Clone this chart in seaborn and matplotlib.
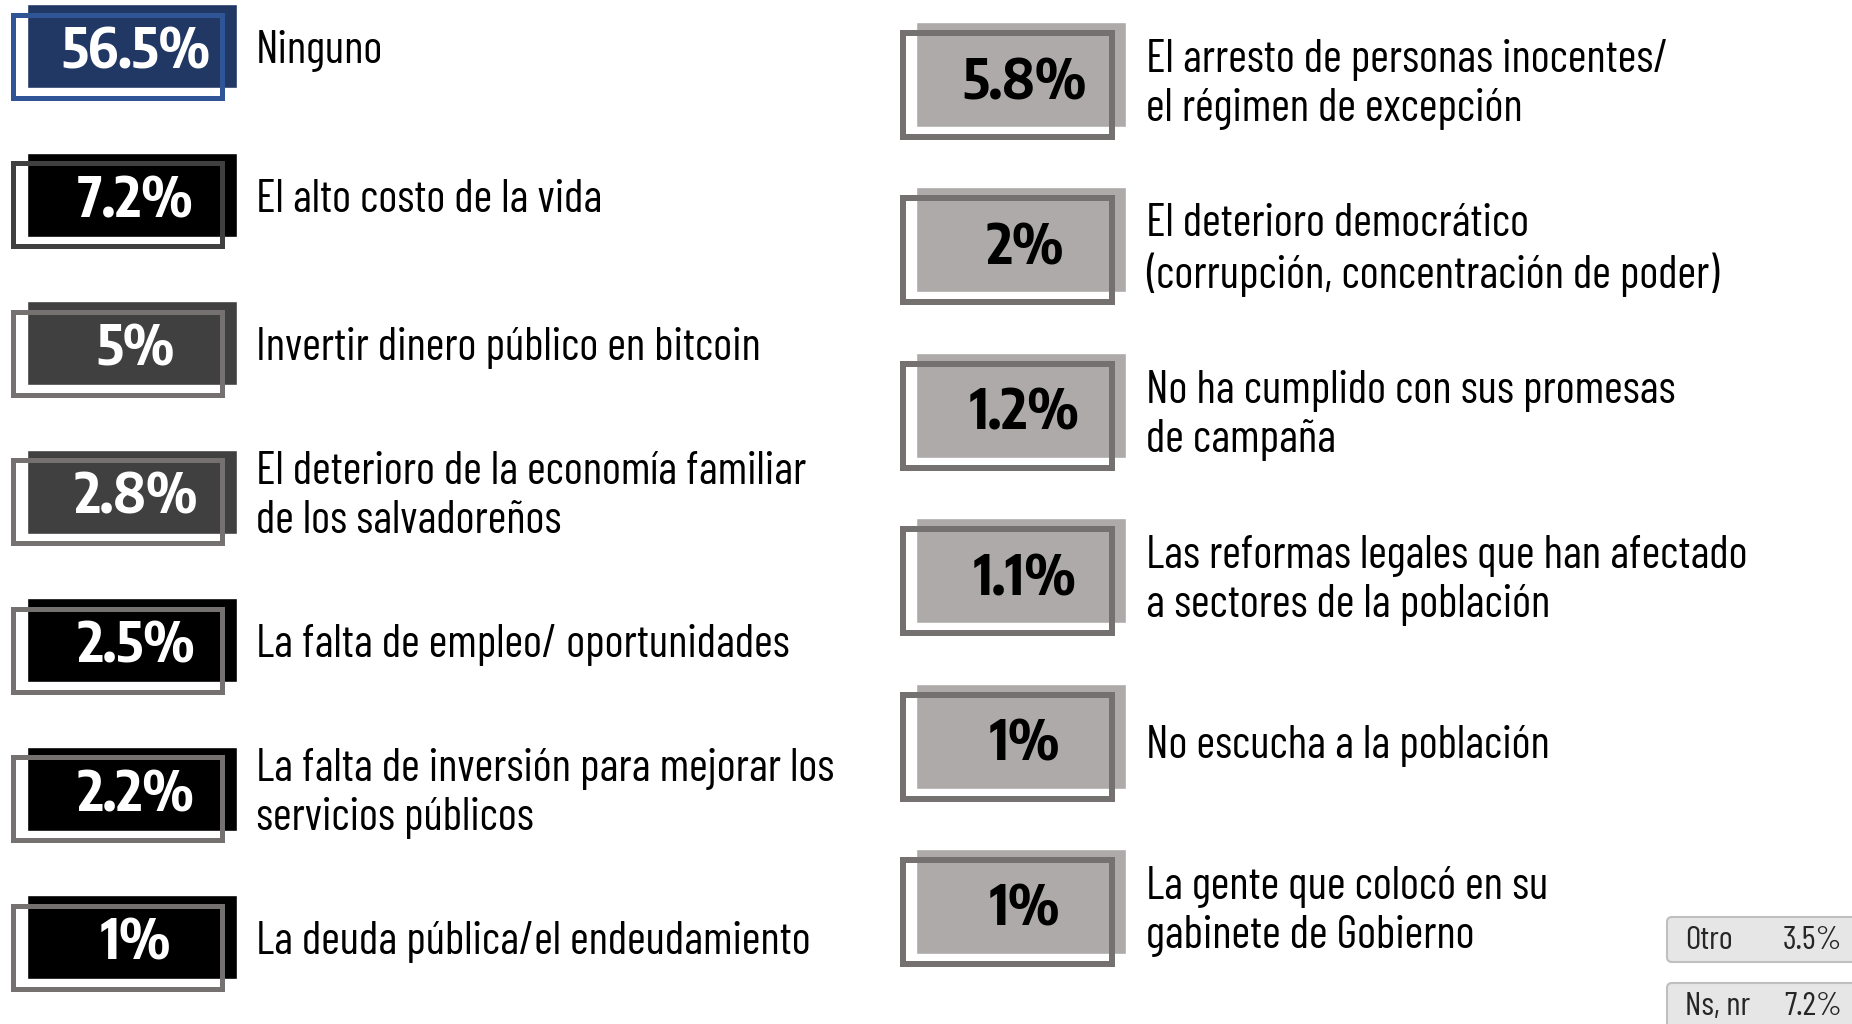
import matplotlib
matplotlib.use("Agg")

import matplotlib.pyplot as plt
import numpy as np
import pandas as pd
import seaborn as sns
from matplotlib.patches import FancyBboxPatch


# =========================
# 1. DADOS
# =========================

etiquetas_izq = [
    "Ninguno",
    "El alto costo de la vida",
    "Invertir dinero público en bitcoin",
    "El deterioro de la economía familiar\nde los salvadoreños",
    "La falta de empleo/ oportunidades",
    "La falta de inversión para mejorar los\nservicios públicos",
    "La deuda pública/el endeudamiento",
]
valores_izq = [56.5, 7.2, 5, 2.8, 2.5, 2.2, 1]

etiquetas_der = [
    "El arresto de personas inocentes/\nel régimen de excepción",
    "El deterioro democrático\n(corrupción, concentración de poder)",
    "No ha cumplido con sus promesas\nde campaña",
    "Las reformas legales que han afectado\na sectores de la población",
    "No escucha a la población",
    "La gente que colocó en su\ngabinete de Gobierno",
]
valores_der = [5.8, 2, 1.2, 1.1, 1, 1]

otros_nombres = ["Otro", "Ns, nr"]
otros_valores = [3.5, 7.2]


# =========================
# 2. ESTILOS
# =========================

relleno_izq = ["#213864", "#000000", "#404040", "#404040",
               "#000000", "#000000", "#000000"]
borde_izq = ["#2F5597", "#404040", "#767171", "#767171",
             "#767171", "#767171", "#767171"]
relleno_der = ["#AEAAAA"] * len(valores_der)
borde_der = ["#767171"] * len(valores_der)

W, H = 1852, 1024
ANCHO_CAJA = 210

sns.set_theme(style="white")

fuente_texto = ["Barlow Condensed", "DejaVu Sans"]
fuente_pct = ["Encode Sans Condensed", "DejaVu Sans"]
plt.rcParams["font.family"] = fuente_texto


def formato(v):
    return f"{v:g}%"


def columna(ax, etiquetas, valores, rellenos, bordes, texto_color,
            paso, centro0, alto, borde_dx, borde_dy, borde_alto, borde_lw,
            izq_px, ancho_px, label_x, label_dy, pct_dy):
    n = len(valores)
    df = pd.DataFrame({"etiqueta": etiquetas, "valor": valores})
    df["ancho"] = ANCHO_CAJA

    sns.barplot(
        data=df, y="etiqueta", x="ancho", hue="etiqueta",
        palette=rellenos, legend=False, saturation=1,
        width=alto / paso, orient="h", ax=ax, zorder=1,
    )

    pos = np.arange(n)
    ax.barh(
        pos + borde_dy / paso, ANCHO_CAJA - 1, left=borde_dx,
        height=borde_alto / paso, fill=False, edgecolor=bordes,
        linewidth=borde_lw * 0.72, zorder=3,
    )

    for i, fila in df.iterrows():
        ax.text(ANCHO_CAJA / 2 + 4, i + pct_dy / paso, formato(fila["valor"]),
                ha="center", va="center", fontsize=40, family=fuente_pct,
                fontweight="bold", color=texto_color, zorder=4)
        ax.text(label_x, i + label_dy / paso, fila["etiqueta"],
                ha="left", va="center", fontsize=32.8, color="#000000",
                linespacing=1.2, zorder=4, clip_on=False)

    ax.set_xlim(-izq_px, ancho_px - izq_px)
    ax.set_ylim((H - centro0) / paso, -centro0 / paso)
    ax.set_axis_off()
    ax.patch.set_visible(False)


fig = plt.figure(figsize=(W / 100, H / 100), dpi=100)

# columna izquierda
ax1 = fig.add_axes([0, 0, 880 / W, 1])
columna(ax1, etiquetas_izq, valores_izq, relleno_izq, borde_izq, "white",
        paso=148.5, centro0=46, alto=84, borde_dx=-14.5, borde_dy=10,
        borde_alto=83, borde_lw=5, izq_px=27, ancho_px=880,
        label_x=229, label_dy=5, pct_dy=6)

# columna derecha
ax2 = fig.add_axes([880 / W, 0, 972 / W, 1])
columna(ax2, etiquetas_der, valores_der, relleno_der, borde_der, "black",
        paso=165.4, centro0=74.5, alto=105, borde_dx=-13, borde_dy=10.5,
        borde_alto=104, borde_lw=6, izq_px=36, ancho_px=972,
        label_x=230, label_dy=10, pct_dy=8)

# cajas pequenas: Otro / Ns, nr
ax3 = fig.add_axes([0, 0, 1, 1])
ax3.set_xlim(0, W)
ax3.set_ylim(H, 0)
ax3.set_axis_off()
ax3.patch.set_visible(False)

for i, (nombre, valor) in enumerate(zip(otros_nombres, otros_valores)):
    y0 = 917 + i * 66
    caja = FancyBboxPatch(
        (1667, y0), 230, 45,
        boxstyle="round,pad=0,rounding_size=5",
        facecolor="#E7E6E6", edgecolor="#BFBFBF", linewidth=1.5,
    )
    ax3.add_patch(caja)
    ax3.text(1685, y0 + 24, nombre, ha="left", va="center",
             fontsize=24, color="#262626")
    ax3.text(1842, y0 + 24, formato(valor), ha="right", va="center",
             fontsize=24, color="#262626")

fig.savefig("out.png", dpi=100)
